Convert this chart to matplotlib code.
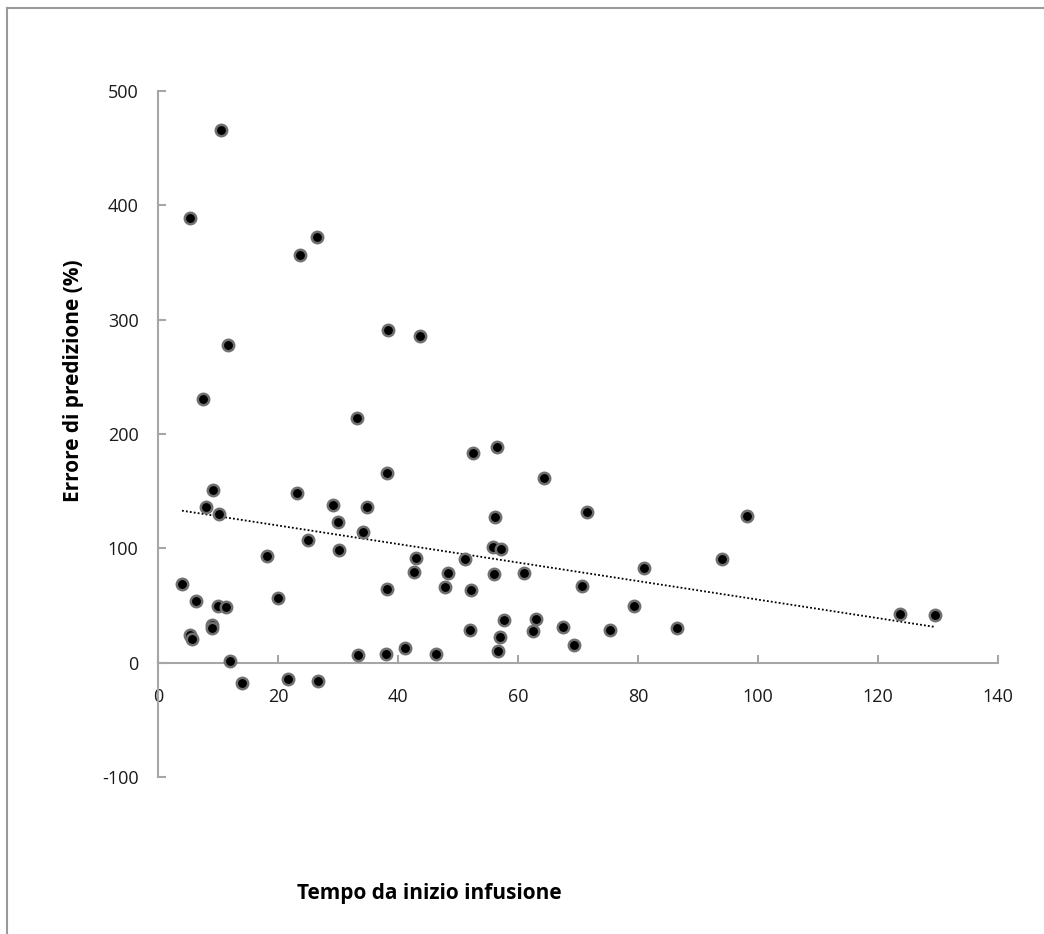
import numpy as np
import matplotlib
matplotlib.use("Agg")
import matplotlib.pyplot as plt
from matplotlib.lines import Line2D

plt.rcParams["font.family"] = ["Open Sans", "DejaVu Sans"]

# data (tempo, errore %)
tempo = [
    10.55, 5.33, 26.55, 23.67, 11.6, 38.4, 43.6,
    7.5, 33.2, 38.17, 9.2, 23.1, 8.05, 29.1, 34.9, 10.17, 30.05, 34.1,
    25.0, 30.2, 18.1, 43.05, 42.7, 48.4, 4.0, 38.17, 47.9, 6.33, 20.05,
    10.0, 11.33, 9.0, 9.0, 5.33, 5.67, 12.05, 14.0, 21.6, 26.7, 33.28,
    38.0, 41.2, 46.3,
    56.5, 52.55, 64.4, 71.55, 56.1, 55.9, 57.17, 51.2, 94.05, 81.0, 61.0,
    55.95, 52.2, 70.67, 79.33, 57.6, 62.95, 51.95, 62.55, 67.5, 75.28,
    86.45, 57.0, 69.33, 56.67,
    98.17, 123.6, 129.5,
]
errore = [
    466.1, 389.2, 372.6, 356.6, 277.6, 291.0, 285.5,
    230.4, 213.8, 166.0, 150.9, 148.3, 135.8, 137.5, 136.1, 129.7, 122.7, 114.5,
    107.5, 98.8, 93.5, 91.5, 79.0, 78.1, 68.8, 64.1, 65.9, 53.7, 56.3,
    49.8, 48.9, 33.0, 30.0, 24.2, 20.7, 1.2, -18.0, -14.5, -16.3, 6.7,
    7.6, 12.8, 7.6,
    188.8, 183.0, 161.7, 131.4, 127.1, 101.4, 99.4, 90.6, 90.6, 82.8, 78.4,
    77.5, 63.5, 67.0, 49.3, 37.0, 38.5, 28.8, 28.0, 31.5, 28.8,
    30.6, 22.7, 15.5, 10.2,
    127.9, 42.8, 41.7,
]

x_ticks = [0, 20, 40, 60, 80, 100, 120, 140]
y_ticks = [-100, 0, 100, 200, 300, 400, 500]

W, H = 1044, 934
fig = plt.figure(figsize=(W / 100, H / 100), dpi=100)
fig.patch.set_facecolor("white")

# outer frame (only top and left visible)
frame_col = "#9a9a9a"
fig.add_artist(Line2D([7 / W, 7 / W], [0, 1 - 8 / H], color=frame_col, lw=1.5,
                      transform=fig.transFigure))
fig.add_artist(Line2D([7 / W, 1], [1 - 8 / H, 1 - 8 / H], color=frame_col, lw=1.5,
                      transform=fig.transFigure))

ax = fig.add_axes([158 / W, 1 - 777 / H, 840 / W, 686 / H])
ax.set_xlim(0, 140)
ax.set_ylim(-100, 500)

# linear trend line over the data range
xs = np.array(tempo)
ys = np.array(errore)
slope, intercept = np.polyfit(xs, ys, 1)
xt = np.array([xs.min(), xs.max()])
ax.plot(xt, slope * xt + intercept, color="black", lw=1.3, ls=(0, (1, 1.2)), zorder=2)

ax.plot(tempo, errore, "o", ms=8.2, mfc="black", mec="#707070", mew=1.8,
        ls="none", zorder=3)

axis_col = "#a6a6a6"
for s in ["top", "right"]:
    ax.spines[s].set_visible(False)
ax.spines["left"].set_color(axis_col)
ax.spines["bottom"].set_color(axis_col)
ax.spines["left"].set_linewidth(1.5)
ax.spines["bottom"].set_linewidth(1.5)
ax.spines["bottom"].set_position(("data", 0))

ax.set_xticks(x_ticks)
ax.set_yticks(y_ticks)
ax.set_xticklabels([str(t) for t in x_ticks])
ax.set_yticklabels([str(t) for t in y_ticks])
ax.tick_params(axis="both", direction="in", length=6, width=1.5, color=axis_col,
               labelsize=13, labelcolor="#1a1a1a")
ax.tick_params(axis="y", pad=14)
ax.tick_params(axis="x", pad=18)

fig.text(73 / W, 1 - 381 / H, "Errore di predizione (%)", rotation=90,
         ha="center", va="center", fontsize=15, fontweight="bold")
fig.text(429 / W, 1 - 893 / H, "Tempo da inizio infusione",
         ha="center", va="center", fontsize=15, fontweight="bold")

fig.savefig("out.png", dpi=100)
